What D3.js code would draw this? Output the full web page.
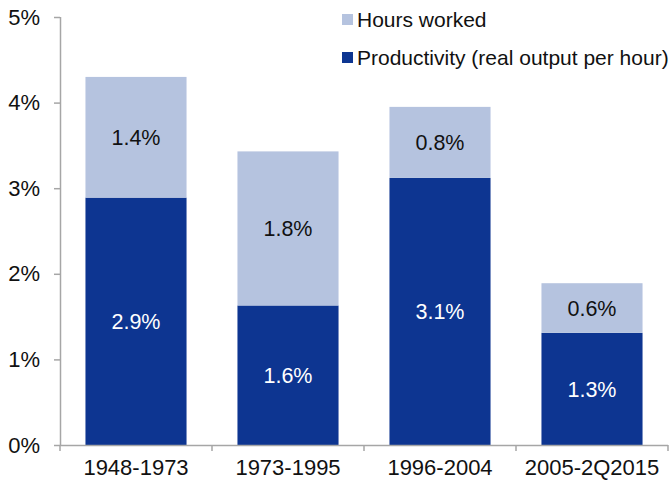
<!DOCTYPE html>
<html><head><meta charset="utf-8">
<script src="https://cdn.jsdelivr.net/npm/d3@7"></script>
<style>body{margin:0;background:#fff}svg{display:block;font-family:"Liberation Sans",Arial,sans-serif}</style>
</head><body>
<script>
const categories = ["1948-1973","1973-1995","1996-2004","2005-2Q2015"];
const productivity = [2.89, 1.63, 3.12, 1.31];
const hoursWorked = [1.41, 1.80, 0.83, 0.58];
const productivityLabels = ["2.9%","1.6%","3.1%","1.3%"];
const hoursLabels = ["1.4%","1.8%","0.8%","0.6%"];
const yTicks = [0,1,2,3,4,5];
const seriesNames = ["Hours worked","Productivity (real output per hour)"];
const colors = {prod:"#0D3591", hours:"#B5C3DF", axis:"#A6A6A6"};

const W=672,H=483;
const svg=d3.select("body").append("svg").attr("width",W).attr("height",H);
const x=d3.scaleBand().domain(categories).range([60,668]).paddingInner(0.335).paddingOuter(0.1675);
const y=d3.scaleLinear().domain([0,5]).range([445,17]);

const data=categories.map((c,i)=>({c,p:productivity[i],h:hoursWorked[i],pl:productivityLabels[i],hl:hoursLabels[i]}));

svg.selectAll(".bp").data(data).enter().append("rect")
 .attr("x",d=>x(d.c)).attr("width",x.bandwidth())
 .attr("y",d=>y(d.p)).attr("height",d=>y(0)-y(d.p)).attr("fill",colors.prod);
svg.selectAll(".bh").data(data).enter().append("rect")
 .attr("x",d=>x(d.c)).attr("width",x.bandwidth())
 .attr("y",d=>y(d.p+d.h)).attr("height",d=>y(d.p)-y(d.p+d.h)).attr("fill",colors.hours);

svg.selectAll(".lp").data(data).enter().append("text")
 .attr("x",d=>x(d.c)+x.bandwidth()/2).attr("y",d=>(y(0)+y(d.p))/2).attr("dy","0.36em")
 .attr("text-anchor","middle").attr("font-size",21.5).attr("fill","#fff").text(d=>d.pl);
svg.selectAll(".lh").data(data).enter().append("text")
 .attr("x",d=>x(d.c)+x.bandwidth()/2).attr("y",d=>(y(d.p)+y(d.p+d.h))/2).attr("dy","0.36em")
 .attr("text-anchor","middle").attr("font-size",21.5).attr("fill","#111").text(d=>d.hl);

const ya=svg.append("g").attr("transform","translate(60,0)")
 .call(d3.axisLeft(y).tickValues(yTicks).tickFormat(d=>d+"%").tickSize(6).tickPadding(14));
const xa=svg.append("g").attr("transform","translate(0,445)")
 .call(d3.axisBottom(x).tickSize(0).tickPadding(14));
[ya,xa].forEach(g=>{g.selectAll("path,line").attr("stroke",colors.axis).attr("stroke-width",1.5);
 g.selectAll("text").attr("font-size",22).attr("fill","#111").attr("font-family","Liberation Sans, Arial, sans-serif");});
ya.select(".domain").attr("d","M0.5,17V445");
xa.select(".domain").attr("d","M60,0.5H668");
const bounds=[0,1,2,3,4].map(i=>60+i*x.step());
xa.selectAll(".bt").data(bounds).enter().append("line")
 .attr("x1",d=>d).attr("x2",d=>d).attr("y1",0).attr("y2",6)
 .attr("stroke",colors.axis).attr("stroke-width",1.5);

const leg=svg.append("g");
const legItems=[{n:seriesNames[0],c:colors.hours,y:14},{n:seriesNames[1],c:colors.prod,y:52}];
legItems.forEach(it=>{
 leg.append("rect").attr("x",342).attr("y",it.y).attr("width",11).attr("height",11).attr("fill",it.c);
 leg.append("text").attr("x",357).attr("y",it.y+12.5).attr("font-size",21).attr("fill","#111").text(it.n);
});
</script>
</body></html>
